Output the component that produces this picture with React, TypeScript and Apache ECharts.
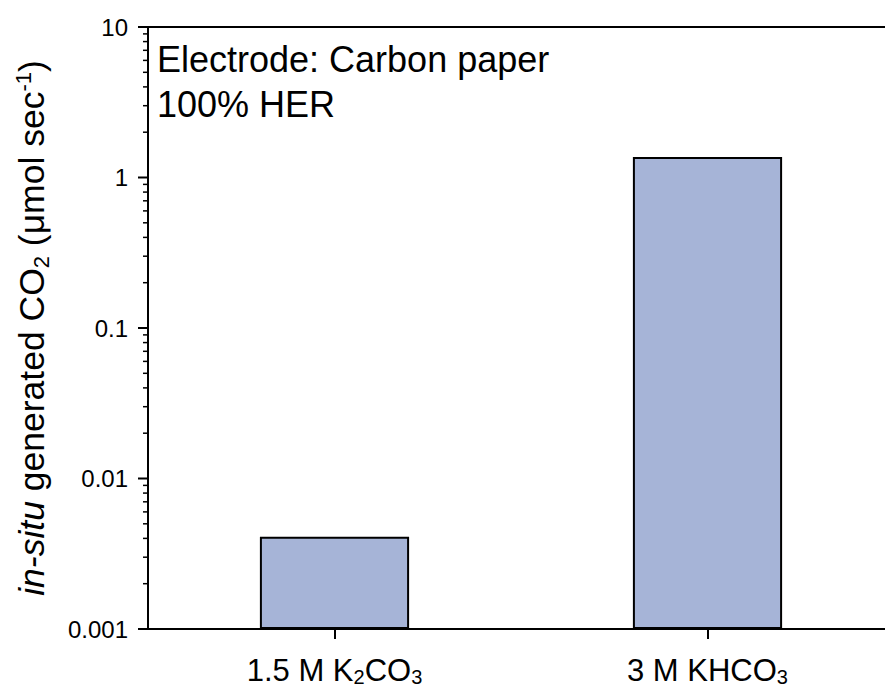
import React, { useEffect, useRef } from "react";
import * as echarts from "echarts";

// Electrolytes on the x axis and the CO2 generated in situ (µmol/s)
const categories = ["1.5 M K2CO3", "3 M KHCO3"];
const categoryLabels = ["1.5 M K{sub|2}CO{sub|3}", "3 M KHCO{sub|3}"];
const co2Rates = [0.0041, 1.37];

// Log axis decades and their labels
const yTickValues = [0.001, 0.01, 0.1, 1, 10];
const yTickLabels = ["0.001", "0.01", "0.1", "1", "10"];
const decades = [0.001, 0.01, 0.1, 1];
const minorMultipliers = [2, 3, 4, 5, 6, 7, 8, 9];

const FONT = "'Liberation Sans', Arial, Helvetica, sans-serif";

// Draws a short outward tick at the y value of each item, on the left axis
const tickRenderer = (len: number, width: number) => (params: any, api: any) => {
  const y = api.coord([api.value(0), api.value(1)])[1];
  const left = params.coordSys.x;
  return {
    type: "line",
    shape: { x1: left - len, y1: y, x2: left, y2: y },
    style: { stroke: "#000", lineWidth: width },
  };
};

export default function App() {
  const ref = useRef<HTMLDivElement>(null);

  useEffect(() => {
    document.body.style.margin = "0";
    document.body.style.overflow = "hidden";
    if (!ref.current) return;
    const chart = echarts.init(ref.current, null, { renderer: "svg" });

    const minorTicks: number[][] = [];
    decades.forEach((d) =>
      minorMultipliers.forEach((m) => minorTicks.push([0, +(d * m).toPrecision(3)]))
    );
    const majorTicks = yTickValues.map((v) => [0, v]);

    chart.setOption({
      animation: false,
      grid: {
        left: 148,
        top: 27,
        right: 6,
        bottom: 64,
        outerBoundsMode: "none",
        containLabel: false,
        show: false,
      },
      xAxis: [
        {
          type: "category",
          data: categories,
          axisLine: { show: true, lineStyle: { color: "#000", width: 2 } },
          axisTick: {
            show: true,
            inside: false,
            interval: 0,
            alignWithLabel: true,
            length: 10,
            lineStyle: { color: "#000", width: 2 },
          },
          axisLabel: {
            show: true,
            interval: 0,
            hideOverlap: false,
            margin: 24,
            fontSize: 31,
            fontFamily: FONT,
            color: "#000",
            lineHeight: 34,
            formatter: (_v: string, i: number) => categoryLabels[i],
            rich: {
              sub: { fontSize: 20, fontFamily: FONT, color: "#000", lineHeight: 8, verticalAlign: "bottom" },
            },
          },
          splitLine: { show: false },
        },
        {
          // top frame line
          type: "category",
          data: categories,
          position: "top",
          axisLine: { show: true, onZero: false, lineStyle: { color: "#000", width: 2 } },
          axisTick: { show: false },
          axisLabel: { show: false },
          splitLine: { show: false },
        },
      ],
      yAxis: {
        type: "log",
        logBase: 10,
        min: 0.001,
        max: 10,
        startValue: 0.001,
        axisLine: { show: true, lineStyle: { color: "#000", width: 2 } },
        axisTick: { show: false },
        axisLabel: {
          margin: 20,
          fontSize: 24,
          fontFamily: FONT,
          color: "#000",
          formatter: (v: number) => yTickLabels[Math.round(Math.log10(v)) + 3],
        },
        splitLine: { show: false },
        name: "{it|in-situ} generated CO{sub|2} (μmol sec{sup|-1})",
        nameLocation: "middle",
        nameRotate: 90,
        nameGap: 96,
        nameTextStyle: {
          fontSize: 35.5,
          fontFamily: FONT,
          color: "#000",
          lineHeight: 40,
          rich: {
            it: { fontSize: 35.5, fontFamily: FONT, color: "#000", fontStyle: "italic", lineHeight: 40 },
            sub: { fontSize: 22, fontFamily: FONT, color: "#000", lineHeight: 8, verticalAlign: "bottom" },
            sup: { fontSize: 22, fontFamily: FONT, color: "#000", lineHeight: 18, verticalAlign: "top" },
          },
        },
      },
      graphic: [
        {
          type: "text",
          left: 157,
          top: 37,
          style: {
            text: "Electrode: Carbon paper\n100% HER",
            font: `36px ${FONT}`,
            lineHeight: 45,
            fill: "#000",
          },
        },
      ],
      series: [
        {
          type: "bar",
          data: co2Rates,
          barWidth: "40%",
          itemStyle: { color: "#a6b4d7", borderColor: "#000", borderWidth: 2 },
        },
        {
          // major log ticks on the y axis
          type: "custom",
          data: majorTicks,
          clip: false,
          silent: true,
          renderItem: tickRenderer(10, 2),
        },
        {
          // minor log ticks on the y axis
          type: "custom",
          data: minorTicks,
          clip: false,
          silent: true,
          renderItem: tickRenderer(5, 1.5),
        },
      ],
    });

    return () => chart.dispose();
  }, []);

  // the frame continues past the right edge of the page, as in the printed figure
  return <div ref={ref} style={{ width: 900, height: 693 }} />;
}
